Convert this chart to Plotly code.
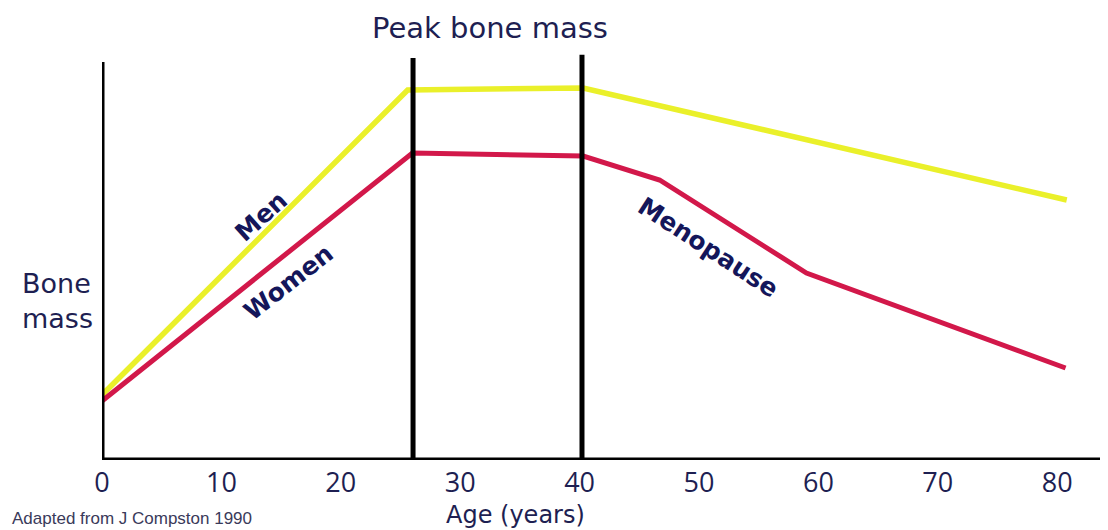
import plotly.graph_objects as go

# ---- data ----
ages_men = [0, 25.6, 40.3, 80.8]
mass_men = [16.25, 92.5, 93.0, 65.0]
ages_women = [0, 26.0, 40.3, 46.7, 59.0, 80.7]
mass_women = [14.75, 76.75, 76.0, 70.0, 46.75, 23.0]
tick_vals = [0, 10, 20, 30, 40, 50, 60, 70, 80]
tick_text = ["0", "10", "20", "30", "40", "50", "60", "70", "80"]
peak_start = 26.05
peak_end = 40.2

NAVY = "#1e1f52"
LABEL = "#14165a"
YELLOW = "#eaf02a"
RED = "#d2184a"

# page body has an 8px margin: the figure is shifted by it
W, H = 1100, 522
L, T, B = 94, 32, 70
PW, PH = W - L, H - T - B  # 1006 x 420

def px(xr):
    return (xr - 8 - L) / PW

def py(yr):
    return 1 - (yr - 8 - T) / PH

fig = go.Figure()
fig.add_trace(go.Scatter(x=ages_men, y=mass_men, mode="lines", name="Men",
                         line=dict(color=YELLOW, width=5.5)))
fig.add_trace(go.Scatter(x=ages_women, y=mass_women, mode="lines", name="Women",
                         line=dict(color=RED, width=5)))

# axes and peak lines
fig.add_shape(type="line", x0=0, x1=0, y0=0, y1=99.5, xref="x", yref="y",
              line=dict(color="black", width=5), layer="above")
fig.add_shape(type="line", x0=0, x1=1, y0=0, y1=0, xref="paper", yref="y",
              line=dict(color="black", width=5), layer="above")
fig.add_shape(type="line", x0=peak_start, x1=peak_start, y0=0, y1=100.5,
              line=dict(color="black", width=5), layer="above")
fig.add_shape(type="line", x0=peak_end, x1=peak_end, y0=0, y1=101.3,
              line=dict(color="black", width=5), layer="above")

# text labels
fig.add_annotation(x=13.3, y=61, text="<b>Men</b>", textangle=-42, showarrow=False,
                   font=dict(family="DejaVu Sans", size=25, color=LABEL))
fig.add_annotation(x=15.6, y=44.5, text="<b>Women</b>", textangle=-38, showarrow=False,
                   font=dict(family="DejaVu Sans", size=25, color=LABEL))
fig.add_annotation(x=50.8, y=53.25, text="<b>Menopause</b>", textangle=33, showarrow=False,
                   font=dict(family="DejaVu Sans", size=25, color=LABEL))

fig.add_annotation(xref="paper", yref="paper", x=px(490), y=py(28),
                   text="Peak bone mass", showarrow=False, xanchor="center", yanchor="middle",
                   font=dict(family="DejaVu Sans", size=29, color=NAVY))
fig.add_annotation(xref="paper", yref="paper", x=px(57), y=py(301),
                   text="Bone<br>mass", showarrow=False, xanchor="center", yanchor="middle",
                   align="left", font=dict(family="DejaVu Sans", size=27, color=NAVY))
fig.add_annotation(xref="paper", yref="paper", x=px(515), y=py(515),
                   text="Age (years)", showarrow=False, xanchor="center", yanchor="middle",
                   borderpad=0,
                   font=dict(family="DejaVu Sans", size=24, color=NAVY))
fig.add_annotation(xref="paper", yref="paper", x=px(10), y=py(518),
                   text="Adapted from J Compston 1990", showarrow=False, xanchor="left",
                   yanchor="middle", font=dict(family="Liberation Sans", size=17, color="#3a3a5a"))

fig.update_xaxes(range=[0, PW / 11.94], tickvals=tick_vals, ticktext=tick_text,
                 showgrid=False, zeroline=False, showline=False, ticks="",
                 ticklabelstandoff=4,
                 tickfont=dict(family="Open Sans", size=27, color=NAVY))
fig.update_yaxes(range=[0, 105], showgrid=False, zeroline=False, showline=False,
                 showticklabels=False, ticks="")
fig.update_layout(width=W, height=H, margin=dict(l=L, r=0, t=T, b=B),
                  paper_bgcolor="white", plot_bgcolor="white", showlegend=False)

fig.write_html("out.html")
